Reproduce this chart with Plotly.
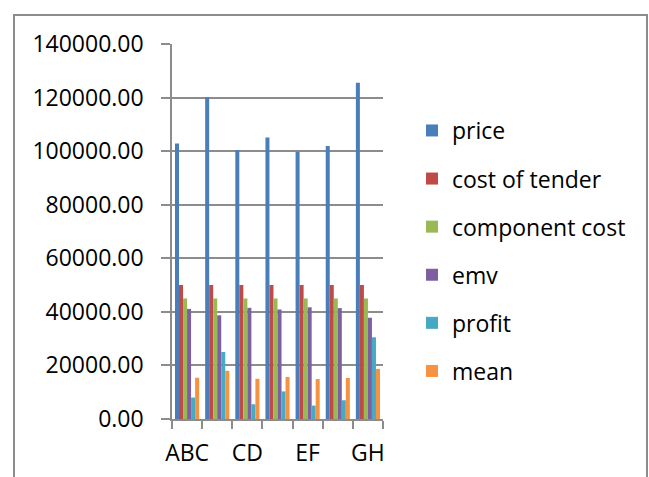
import plotly.graph_objects as go

# Tender comparison: seven bid groups, six measures each
tick_labels = ["ABC", "CD", "EF", "GH"]          # shown under every second group
group_index = [0, 1, 2, 3, 4, 5, 6]

price = [102900, 120100, 100400, 105100, 99800, 101900, 125500]
cost_of_tender = [50000, 50000, 50000, 50000, 50000, 50000, 50000]
component_cost = [45000, 45000, 45000, 45000, 45000, 45000, 45000]
emv = [41100, 38700, 41500, 40900, 41700, 41400, 37800]
profit = [8000, 25000, 5500, 10300, 5000, 7000, 30500]
mean = [15400, 18000, 15000, 15700, 14900, 15300, 18700]

series_names = ["price", "cost of tender", "component cost", "emv", "profit", "mean"]
series_values = [price, cost_of_tender, component_cost, emv, profit, mean]
colors = ["#4A7EBB", "#BE4B48", "#98B954", "#7D60A0", "#46AAC5", "#F69240"]

FONT = "Open Sans"
GRID = "#8C8C8C"

fig = go.Figure()
for i, (name, vals, col) in enumerate(zip(series_names, series_values, colors)):
    fig.add_trace(go.Bar(
        x=group_index, y=vals, name=name,
        marker=dict(color=col, line=dict(width=0)),
        legendgroup=f"g{i}",
    ))

# plot area spans x 172..383 px and y 44..419 px of the 649x477 page
L, R, T, B = 172, 383, 44, 419
W, H = 649, 477
pw, ph = R - L, B - T


def px(xp):
    return (xp - L) / pw


def py(yp):
    return (B - yp) / ph


fig.update_layout(
    width=W, height=H,
    margin=dict(l=L, r=W - R, t=T, b=H - B, pad=0, autoexpand=False),
    paper_bgcolor="white", plot_bgcolor="white",
    barmode="group", bargap=0.2, bargroupgap=0,
    font=dict(family=FONT, size=23, color="#000000"),
    showlegend=True,
    legend=dict(
        x=px(412), y=py(109), xanchor="left", yanchor="top",
        font=dict(family=FONT, size=23, color="#000000"),
        traceorder="grouped", tracegroupgap=15.2,
        bgcolor="rgba(0,0,0,0)", itemwidth=30,
    ),
    xaxis=dict(
        range=[-0.5, 6.5], automargin=False,
        tickmode="array", tickvals=group_index[::2], ticktext=tick_labels,
        ticks="", showgrid=False, zeroline=False,
        showline=True, linecolor=GRID, linewidth=1.5,
        ticklabelstandoff=13,
        minor=dict(tickmode="linear", tick0=-0.5, dtick=1, ticks="outside",
                   ticklen=8, tickwidth=1.5, tickcolor=GRID, showgrid=False),
        fixedrange=True,
    ),
    yaxis=dict(
        range=[0, 140000], dtick=20000, tickformat=".2f", automargin=False,
        ticks="outside", ticklen=9, tickwidth=1.5, tickcolor=GRID,
        showgrid=True, gridcolor=GRID, gridwidth=1.5,
        zeroline=False, showline=True, linecolor=GRID, linewidth=1.5,
        ticklabelstandoff=13,
        fixedrange=True,
    ),
    shapes=[
        # outer chart frame
        dict(type="rect", xref="paper", yref="paper",
             x0=px(14), x1=px(647), y0=py(490), y1=py(15),
             line=dict(color="#8C8C8C", width=2), fillcolor="rgba(0,0,0,0)",
             layer="below"),
    ],
)

fig.write_html("out.html")
